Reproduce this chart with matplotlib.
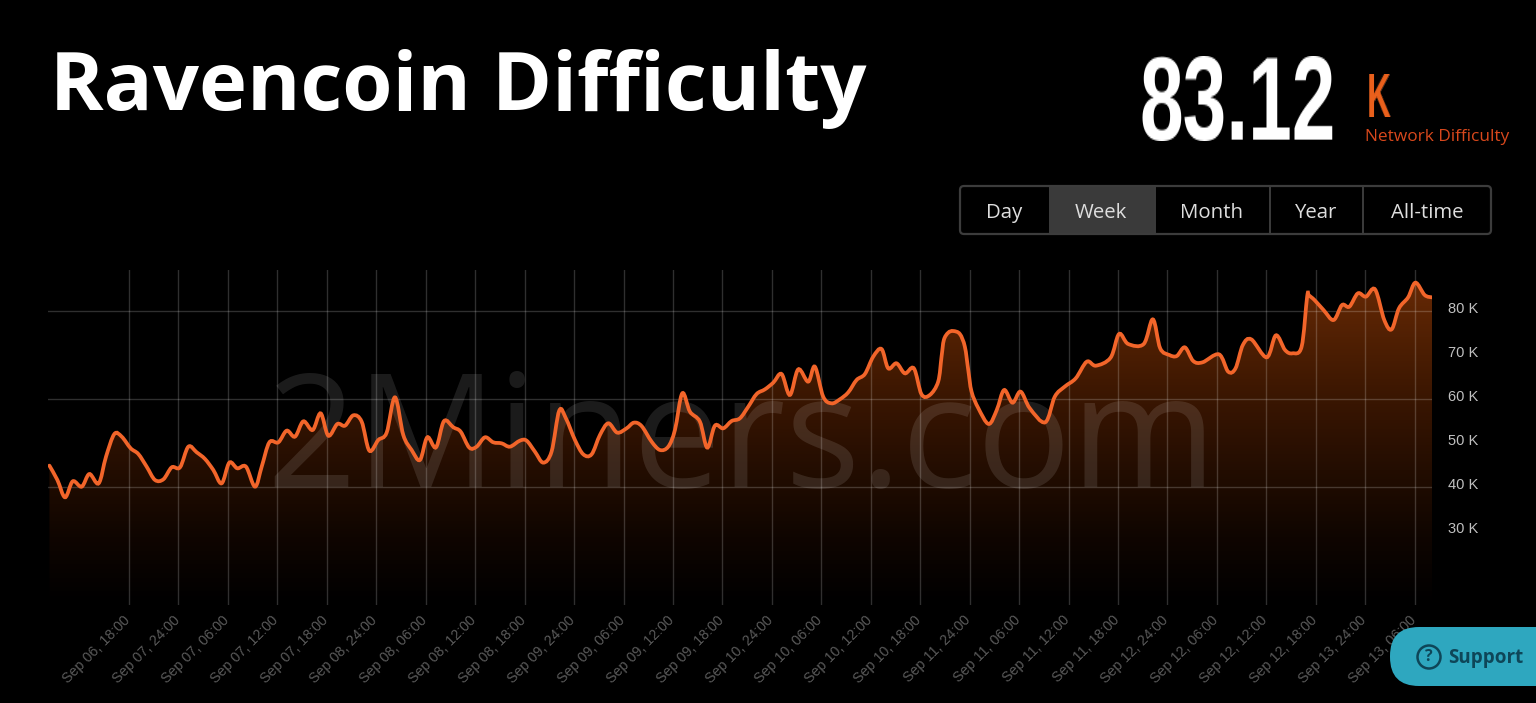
import numpy as np
import matplotlib
matplotlib.use("Agg")
import matplotlib.pyplot as plt
from matplotlib.colors import LinearSegmentedColormap
from matplotlib.patches import FancyBboxPatch, PathPatch, Circle, Rectangle
from matplotlib.path import Path
from matplotlib.transforms import ScaledTranslation

# Hours after Sep 06, 18:00
hours = [-9.66, -8.69, -7.76, -6.83, -5.74, -4.81, -3.68, -2.79, -1.78, -0.89, 0.20, 1.13, 2.14, 3.15, 4.17, 5.18,
         6.19, 7.20, 8.21, 9.22, 10.23, 11.24, 12.17, 13.14, 14.19, 15.29, 16.10, 17.03, 18.12, 19.13, 20.14, 21.15,
         22.28, 23.25, 24.18, 25.28, 26.21, 27.22, 28.23, 29.16, 30.25, 31.26, 32.27, 33.28, 34.29, 35.30, 36.19,
         37.25, 38.22, 39.35, 40.24, 41.29, 42.18, 43.19, 44.20, 45.21, 46.22, 47.43, 48.24, 49.25, 50.26, 51.27,
         52.20, 53.01, 54.11, 55.12, 56.13, 57.14, 58.15, 59.24, 60.37, 61.26, 62.19, 63.41, 64.42, 65.43, 66.24,
         67.13, 68.06, 69.27, 70.16, 71.09, 72.10, 73.11, 74.12, 75.14, 76.15, 77.16, 78.17, 79.18, 80.19, 81.20,
         82.41, 83.22, 84.23, 85.24, 86.25, 87.27, 88.28, 89.29, 90.30, 91.31, 92.12, 93.13, 94.14, 95.23, 96.16,
         97.17, 98.18, 98.59, 98.87, 99.40, 100.0, 100.81, 101.42, 101.83, 102.23, 103.06, 104.31, 105.29, 106.18,
         107.20, 108.18, 109.30, 111.17, 112.33, 113.53, 114.87, 116.21, 117.32, 119.10, 120.13, 121.24, 123.12,
         124.23, 125.12, 126.23, 127.13, 128.11, 129.13, 130.25, 132.25, 133.37, 134.26, 135.15, 136.17, 138.05,
         139.16, 140.27, 141.17, 142.28, 142.95, 143.17, 143.84, 144.95, 146.16, 147.18, 148.07, 149.10, 150.08,
         151.19, 152.31, 153.20, 154.09, 155.20, 156.09, 157.21, 158.10]

difficulty = [44.85, 41.59, 37.65, 41.29, 40.07, 42.95, 40.83, 46.89, 52.04, 51.44, 48.79, 47.50, 44.62, 41.59, 41.74,
              44.47, 44.47, 49.16, 47.88, 46.36, 43.86, 40.83, 45.53, 44.24, 44.62, 40.07, 44.62, 50.15, 50.15, 52.80,
              51.44, 54.92, 52.95, 56.74, 51.66, 54.32, 53.94, 56.29, 54.85, 48.26, 50.68, 52.35, 60.38, 51.82, 48.41,
              46.14, 51.29, 49.01, 54.98, 53.56, 52.57, 48.94, 49.16, 51.29, 50.15, 49.92, 49.16, 50.53, 50.53, 48.03,
              45.53, 48.03, 57.35, 55.60, 50.68, 47.42, 47.42, 51.82, 54.47, 52.35, 53.33, 54.62, 53.86, 50.30, 48.41,
              49.16, 52.95, 61.29, 57.12, 54.85, 48.94, 53.94, 53.33, 54.98, 55.60, 58.26, 61.13, 62.19, 63.71, 65.68,
              60.91, 66.74, 63.94, 67.35, 60.53, 59.01, 59.92, 61.51, 64.32, 65.68, 69.62, 71.36, 66.97, 68.11, 65.83,
              66.97, 61.06, 60.91, 63.94, 69.62, 73.41, 75.07, 75.45, 74.77, 71.88, 66.60, 61.67, 57.88, 54.32, 57.50,
              62.04, 59.16, 61.67, 57.88, 54.70, 60.53, 62.80, 64.70, 68.48, 67.57, 69.39, 74.77, 72.50, 72.50, 78.10,
              71.51, 70.00, 69.77, 71.74, 68.63, 68.33, 70.15, 66.21, 66.97, 72.27, 73.56, 69.47, 74.47, 71.13, 70.38,
              71.89, 83.26, 83.5, 82.50, 80.2, 77.95, 81.36, 80.98, 84.01, 83.26, 84.92, 77.95, 75.83, 80.60, 83.10,
              86.44, 83.63, 83.10]

x_labels = ["Sep 06, 18:00", "Sep 07, 24:00", "Sep 07, 06:00", "Sep 07, 12:00", "Sep 07, 18:00", "Sep 08, 24:00",
            "Sep 08, 06:00", "Sep 08, 12:00", "Sep 08, 18:00", "Sep 09, 24:00", "Sep 09, 06:00", "Sep 09, 12:00",
            "Sep 09, 18:00", "Sep 10, 24:00", "Sep 10, 06:00", "Sep 10, 12:00", "Sep 10, 18:00", "Sep 11, 24:00",
            "Sep 11, 06:00", "Sep 11, 12:00", "Sep 11, 18:00", "Sep 12, 24:00", "Sep 12, 06:00", "Sep 12, 12:00",
            "Sep 12, 18:00", "Sep 13, 24:00", "Sep 13, 06:00"]
x_ticks = [6 * i for i in range(len(x_labels))]
y_major = [40, 60, 80]
y_minor = [30, 50, 70]

buttons = ["Day", "Week", "Month", "Year", "All-time"]
button_centers = [1004, 1101, 1212, 1316, 1427]
button_edges = [1049, 1155, 1270, 1363]

W, H = 1536, 703
fig = plt.figure(figsize=(W / 100, H / 100), dpi=100, facecolor="black")


# Stretch a text upward from its baseline, no condensed font is installed
def stretch(factor):
    def _filter(img, dpi):
        h = img.shape[0]
        ys = np.linspace(0, h - 1, int(h * factor))
        i0 = np.minimum(ys.astype(int), h - 2)
        t = (ys - i0)[:, None, None]
        return img[i0] * (1 - t) + img[i0 + 1] * t, 0, 0
    return _filter


# Chart area
left, right, top, bottom = 48, 1432, 270, 605
ax = fig.add_axes([left / W, 1 - bottom / H, (right - left) / W, (bottom - top) / H], facecolor="black")
for s in ax.spines.values():
    s.set_visible(False)

# Smooth curve through the points
px = np.array(hours)
py = np.array(difficulty)
pts = np.column_stack([px, py])
verts = [pts[0]]
codes = [Path.MOVETO]
for i in range(len(pts) - 1):
    p0 = pts[max(i - 1, 0)]
    p1 = pts[i]
    p2 = pts[i + 1]
    p3 = pts[min(i + 2, len(pts) - 1)]
    verts += [p1 + (p2 - p0) / 6, p2 - (p3 - p1) / 6, p2]
    codes += [Path.CURVE4] * 3

# Gradient fill below the line
fill_path = Path(verts + [[px[-1], 13.17], [px[0], 13.17], [px[0], py[0]]],
                 codes + [Path.LINETO, Path.LINETO, Path.CLOSEPOLY])
cmap = LinearSegmentedColormap.from_list("fill", ["#000000", "#0f0500", "#230d01", "#381501", "#512003", "#6b2b05"])
grad = np.linspace(1, 0, 256).reshape(-1, 1)
im = ax.imshow(grad, cmap=cmap, aspect="auto", extent=[px[0], px[-1], 13.17, 89.32], zorder=1)
im.set_clip_path(PathPatch(fill_path, transform=ax.transData))
ax.set_xlim(-9.83, 158.1)
ax.set_ylim(13.17, 89.32)

# Grid
ax.set_axisbelow(False)
ax.set_xticks(x_ticks)
ax.set_xticklabels(x_labels, rotation=45, ha="right", va="top", rotation_mode="anchor",
                   family="Liberation Sans", fontsize=10.3, color="#5a5a5a")
ax.set_yticks(y_major)
ax.set_yticks(y_minor, minor=True)
ax.set_yticklabels([f"{v} K" for v in y_major], family="Liberation Sans", fontsize=10.5, color="#c0c0c0")
ax.set_yticklabels([f"{v} K" for v in y_minor], minor=True, family="Liberation Sans", fontsize=10.5, color="#c0c0c0")
ax.yaxis.tick_right()
ax.yaxis.set_tick_params(which="both", length=0, pad=11.5)
ax.xaxis.set_tick_params(length=0, pad=7)
up = ScaledTranslation(0, 0.035, fig.dpi_scale_trans)
for lab in ax.get_yticklabels() + ax.get_yticklabels(minor=True):
    lab.set_transform(lab.get_transform() + up)
back = ScaledTranslation(-0.06, 0.015, fig.dpi_scale_trans)
for lab in ax.get_xticklabels():
    lab.set_transform(lab.get_transform() + back)
ax.grid(True, which="major", color="white", alpha=0.19, lw=1.0, zorder=2)

# Watermark
ax.text(16.7, 40, "2Miners.com", family="Open Sans", fontsize=113, color="white", alpha=0.11,
        va="baseline", ha="left", zorder=3, clip_on=False)

# Line
ax.add_patch(PathPatch(Path(verts, codes), fc="none", ec="#f2652a", lw=2.7, zorder=4, capstyle="round"))

# Everything around the chart, in pixel coordinates
ov = fig.add_axes([0, 0, 1, 1], facecolor="none", zorder=5)
ov.set_xlim(0, W)
ov.set_ylim(H, 0)
ov.axis("off")

ov.text(50, 110, "Ravencoin Difficulty", family="Open Sans", fontweight="bold", fontsize=58.6, color="white",
        va="baseline", ha="left")

big = ov.text(1139, 140, "83.12", family="Liberation Sans", fontweight="bold",
              fontsize=56.5, color="white", va="baseline", ha="left")
big.set_agg_filter(stretch(1.52))
unit = ov.text(1367, 117, "K", family="Liberation Sans", fontweight="bold",
               fontsize=24, color="#e9601c", va="baseline", ha="left")
unit.set_agg_filter(stretch(1.88))
ov.text(1365, 141, "Network Difficulty", family="Open Sans", fontsize=12.4, color="#d9481c",
        va="baseline", ha="left")

# Range buttons
ov.add_patch(Rectangle((button_edges[0], 186), button_edges[1] - button_edges[0], 48, fc="#3a3a3a", ec="none"))
ov.add_patch(FancyBboxPatch((960, 186), 531, 48, boxstyle="round,pad=0,rounding_size=4", fc="none",
                            ec="#3c3c3c", lw=1.6))
for e in button_edges[1:]:
    ov.plot([e, e], [186, 234], color="#3c3c3c", lw=1.4)
for name, c in zip(buttons, button_centers):
    ov.text(c, 213, name, family="Open Sans", fontsize=14.7, color="#dedede", ha="center", va="center")

# Support pill
ov.add_patch(FancyBboxPatch((1390, 627), 190, 59, boxstyle="round,pad=0,rounding_size=29", fc="#2ea7bf", ec="none"))
ov.add_patch(Circle((1429, 657), 11.5, fc="none", ec="#0e4658", lw=1.8))
ov.text(1429, 657, "?", family="Open Sans", fontweight="bold", fontsize=11.5, color="#0e4658",
        ha="center", va="center")
ov.text(1448, 658, "Support", family="Open Sans", fontweight="bold", fontsize=13.6, color="#0e4658",
        ha="left", va="center")

fig.savefig("out.png", dpi=100, facecolor="black")
